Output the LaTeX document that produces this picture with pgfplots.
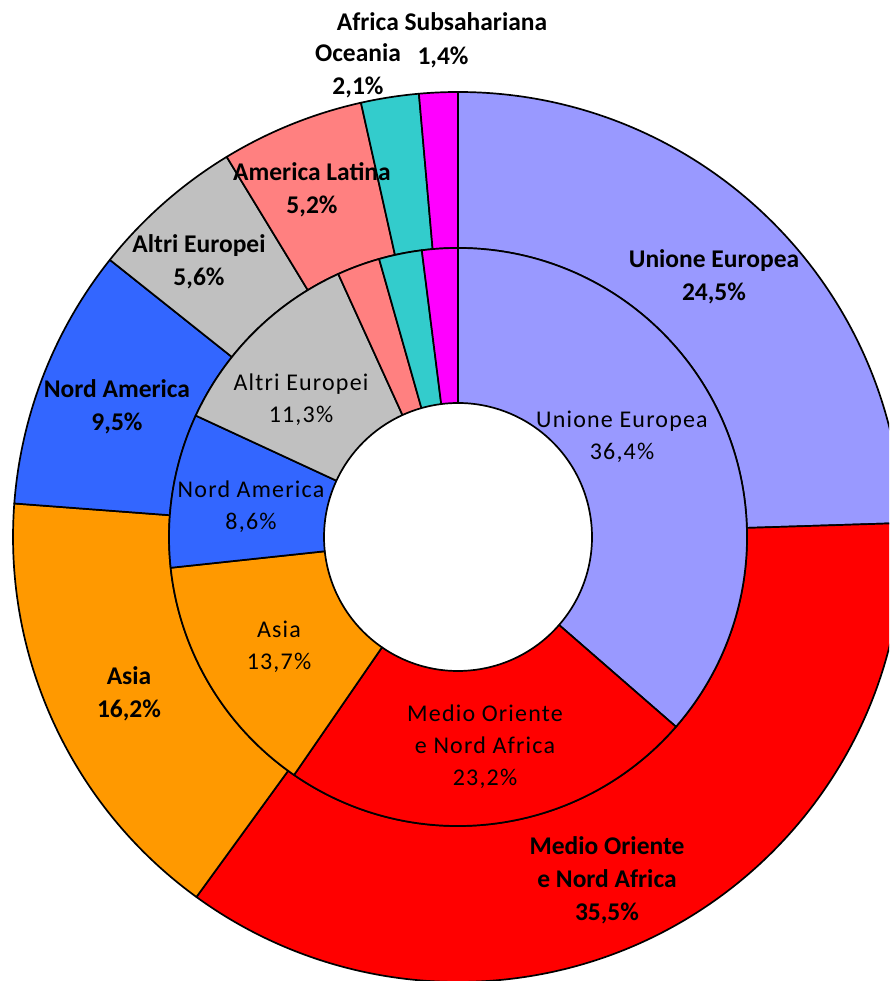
\documentclass[border=0pt]{standalone}
\usepackage{pgfplots}
\pgfplotsset{compat=1.18}
\usepackage{fontspec}
\setmainfont{Carlito}
\newfontfamily\innerfont[LetterSpace=5]{Carlito}

\definecolor{cUE}{HTML}{9999FF}
\definecolor{cMO}{HTML}{FF0000}
\definecolor{cAS}{HTML}{FF9900}
\definecolor{cNA}{HTML}{3366FF}
\definecolor{cAE}{HTML}{C0C0C0}
\definecolor{cAL}{HTML}{FF8080}
\definecolor{cOC}{HTML}{33CCCC}
\definecolor{cAF}{HTML}{FF00FF}

% one ring: inner radius, outer radius, list of value/colour (clockwise from 12 o'clock)
\newcommand\ring[3]{%
  \xdef\cum{0}%
  \foreach \v/\c in {#3}{%
    \pgfmathsetmacro\aS{90-3.6*\cum}%
    \pgfmathsetmacro\aE{90-3.6*(\cum+\v)}%
    \filldraw[fill=\c,draw=black,line width=1.7pt,line join=round]
      (axis cs:{#2*cos(\aS)},{#2*sin(\aS)})
      arc[start angle=\aS,end angle=\aE,radius=#2pt]
      -- (axis cs:{#1*cos(\aE)},{#1*sin(\aE)})
      arc[start angle=\aE,end angle=\aS,radius=#1pt] -- cycle;
    \pgfmathsetmacro\newcum{\cum+\v}%
    \xdef\cum{\newcum}%
  }%
}

\begin{document}
\begin{tikzpicture}
\begin{axis}[
    x=1pt, y=1pt,
    scale only axis,
    xmin=-458, xmax=431,
    ymin=-444, ymax=537,
    hide axis,
    clip=true,
]
\pgfplotsextra{%
  % outer ring (values in %)
  \ring{289}{445}{24.5/cUE,35.5/cMO,16.2/cAS,9.5/cNA,5.6/cAE,5.2/cAL,2.1/cOC,1.4/cAF}
  % inner ring (values in %)
  \ring{134}{289}{36.4/cUE,23.2/cMO,13.7/cAS,8.6/cNA,11.3/cAE,2.4/cAL,2.4/cOC,2.0/cAF}
}

% outer labels
\begin{scope}[every node/.style={font=\fontsize{25.5}{33}\selectfont\bfseries, align=center, inner sep=0pt}]
\node at (axis cs:-16,515) {Africa Subsahariana};
\node at (axis cs:-15,480) {1,4\%};
\node at (axis cs:-100,466) {Oceania\\2,1\%};
\node at (axis cs:-146,347) {America Latina\\5,2\%};
\node at (axis cs:-259,275) {Altri Europei\\5,6\%};
\node at (axis cs:-341,130) {Nord America\\9,5\%};
\node at (axis cs:-329,-157) {Asia\\16,2\%};
\node at (axis cs:149,-343) {Medio Oriente\\e Nord Africa\\35,5\%};
\node at (axis cs:256,260) {Unione Europea\\24,5\%};
\end{scope}

% inner labels
\begin{scope}[every node/.style={font=\innerfont\fontsize{24}{32}\selectfont, align=center, inner sep=0pt}]
\node at (axis cs:164,100) {Unione Europea\\36,4\%};
\node at (axis cs:-157,137) {Altri Europei\\11,3\%};
\node at (axis cs:-207,30) {Nord America\\8,6\%};
\node at (axis cs:-179,-110) {Asia\\13,7\%};
\node at (axis cs:27,-210) {Medio Oriente\\e Nord Africa\\23,2\%};
\end{scope}
\end{axis}
\pgfresetboundingbox
\path (current axis.south west) rectangle (current axis.north east);
\end{tikzpicture}
\end{document}
